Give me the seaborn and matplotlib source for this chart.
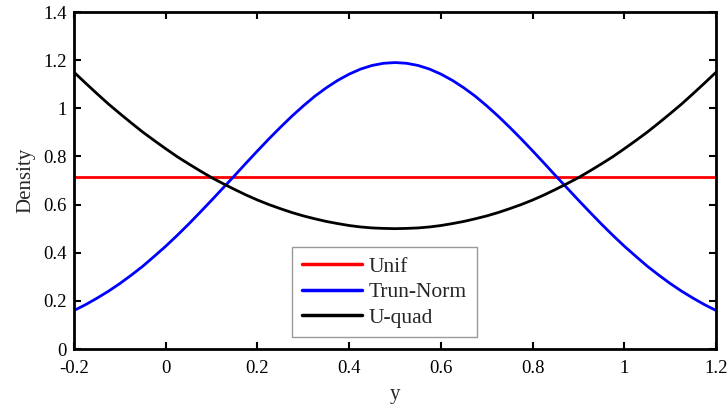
import numpy as np
import pandas as pd
import matplotlib
matplotlib.use("Agg")
import matplotlib.pyplot as plt
import seaborn as sns

# Grid of y values (step 0.025 over the support)
y_grid = np.round(np.linspace(-0.2, 1.2, 57), 3)

# Densities of the three distributions on that grid
unif = [0.714] * len(y_grid)
trun_norm = [0.160, 0.184, 0.211, 0.240, 0.272, 0.307, 0.344, 0.385, 0.427, 0.472,
             0.519, 0.568, 0.618, 0.669, 0.720, 0.772, 0.823, 0.873, 0.921, 0.967,
             1.010, 1.050, 1.085, 1.116, 1.142, 1.163, 1.178, 1.187, 1.190,
             1.187, 1.178, 1.163, 1.142, 1.116, 1.085, 1.050, 1.010, 0.967, 0.921,
             0.873, 0.823, 0.772, 0.720, 0.669, 0.618, 0.568, 0.519, 0.472, 0.427,
             0.385, 0.344, 0.307, 0.272, 0.240, 0.211, 0.184, 0.160]
u_quad = [1.150, 1.105, 1.061, 1.018, 0.978, 0.939, 0.901, 0.866, 0.832, 0.799,
          0.769, 0.740, 0.712, 0.687, 0.663, 0.640, 0.619, 0.600, 0.583, 0.567,
          0.553, 0.541, 0.530, 0.521, 0.513, 0.507, 0.503, 0.501, 0.500,
          0.501, 0.503, 0.507, 0.513, 0.521, 0.530, 0.541, 0.553, 0.567, 0.583,
          0.600, 0.619, 0.640, 0.663, 0.687, 0.712, 0.740, 0.769, 0.799, 0.832,
          0.866, 0.901, 0.939, 0.978, 1.018, 1.061, 1.105, 1.150]

series_names = ["Unif", "Trun-Norm", "U-quad"]
series_colors = ["#ff0000", "#0000ff", "#000000"]

x_ticks = [-0.2, 0, 0.2, 0.4, 0.6, 0.8, 1, 1.2]
x_tick_labels = ["-0.2", "0", "0.2", "0.4", "0.6", "0.8", "1", "1.2"]
y_ticks = [0, 0.2, 0.4, 0.6, 0.8, 1, 1.2, 1.4]
y_tick_labels = ["0", "0.2", "0.4", "0.6", "0.8", "1", "1.2", "1.4"]

df = pd.concat([
    pd.DataFrame({"y": y_grid, "Density": vals, "dist": name})
    for name, vals in zip(series_names, [unif, trun_norm, u_quad])
], ignore_index=True)

sns.set_style("white")
plt.rcParams["font.family"] = ["Liberation Serif", "DejaVu Serif"]
plt.rcParams["font.size"] = 13

fig = plt.figure(figsize=(7.27, 4.07), dpi=100)
ax = fig.add_axes([0.1018, 0.1425, 0.8832, 0.828])

sns.lineplot(data=df, x="y", y="Density", hue="dist", hue_order=series_names,
             palette=dict(zip(series_names, series_colors)), linewidth=2.0, ax=ax,
             legend=True)

ax.set_xlim(-0.2, 1.2)
ax.set_ylim(0, 1.4)
ax.set_xticks(x_ticks)
ax.set_xticklabels(x_tick_labels)
ax.set_yticks(y_ticks)
ax.set_yticklabels(y_tick_labels)
ax.xaxis.set_ticks_position("both")
ax.yaxis.set_ticks_position("both")
ax.tick_params(direction="in", length=5, width=1.5, labelsize=13.5, colors="black")
ax.tick_params(axis="x", pad=8)
ax.tick_params(axis="y", pad=5)
for sp in ax.spines.values():
    sp.set_visible(True)
    sp.set_linewidth(2.0)
    sp.set_color("black")

ax.set_xlabel("y", fontsize=15, labelpad=6)
ax.set_ylabel("Density", fontsize=15, labelpad=6)

leg = ax.legend(loc="lower left", bbox_to_anchor=(0.34, 0.035), frameon=True,
                fancybox=False, edgecolor="#808080", fontsize=15.5,
                handlelength=2.8, handletextpad=0.3, borderpad=0.45, labelspacing=0.25,
                borderaxespad=0)
leg.get_frame().set_linewidth(1.0)
for line in leg.get_lines():
    line.set_linewidth(2.5)

fig.savefig("out.png", dpi=100)
